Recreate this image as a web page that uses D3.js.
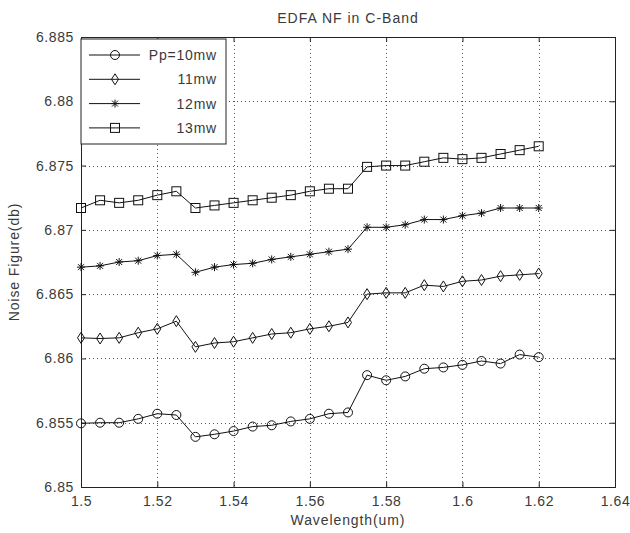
<!DOCTYPE html>
<html lang="en">
  <head>
    <meta charset="UTF-8" />
    <title>EDFA NF in C-Band</title>
    <script src="https://d3js.org/d3.v7.min.js"></script>
    <style>
      body { margin: 0; background: #fff; }
      svg text { font-family: "Liberation Sans", Arial, sans-serif; fill: #3a3a3a; }
    </style>
  </head>
  <body>
    <svg></svg>
    <script>
      // wavelengths (um), 1.5 .. 1.62 step 0.005
      const wavelength = [1.5, 1.505, 1.51, 1.515, 1.52, 1.525, 1.53, 1.535, 1.54, 1.545, 1.55, 1.555, 1.56,
        1.565, 1.57, 1.575, 1.58, 1.585, 1.59, 1.595, 1.6, 1.605, 1.61, 1.615, 1.62];

      const nf10 = [6.85495, 6.8550, 6.8550, 6.8553, 6.8557, 6.8556, 6.8539, 6.8541, 6.85435, 6.8547, 6.8548,
        6.8551, 6.8553, 6.8557, 6.8558, 6.8587, 6.8583, 6.8586, 6.8592, 6.8593, 6.8595, 6.8598, 6.8596, 6.8603, 6.8601];
      const nf11 = [6.8616, 6.86155, 6.8616, 6.8620, 6.8623, 6.8629, 6.8609, 6.8612, 6.8613, 6.8616, 6.8619,
        6.8620, 6.8623, 6.8625, 6.8628, 6.8650, 6.8651, 6.8651, 6.8657, 6.8656, 6.8660, 6.8661, 6.8664, 6.8665, 6.8666];
      const nf12 = [6.8671, 6.8672, 6.8675, 6.8676, 6.8680, 6.8681, 6.8667, 6.8671, 6.8673, 6.8674, 6.8677,
        6.8679, 6.8681, 6.8683, 6.8685, 6.8702, 6.8702, 6.8704, 6.8708, 6.8708, 6.8711, 6.8713, 6.8717, 6.8717, 6.8717];
      const nf13 = [6.8717, 6.8723, 6.8721, 6.8723, 6.8727, 6.8730, 6.8717, 6.8719, 6.8721, 6.8723, 6.8725,
        6.8727, 6.8730, 6.8732, 6.8732, 6.8749, 6.8750, 6.8750, 6.8753, 6.8756, 6.8755, 6.8756, 6.8759, 6.8762, 6.8765];

      const seriesNames = ["Pp=10mw", "11mw", "12mw", "13mw"];
      const seriesValues = [nf10, nf11, nf12, nf13];
      const markerTypes = ["circle", "diamond", "star", "square"];

      const xTicks = [1.5, 1.52, 1.54, 1.56, 1.58, 1.6, 1.62, 1.64];
      const yTicks = [6.85, 6.855, 6.86, 6.865, 6.87, 6.875, 6.88, 6.885];

      const width = 630, height = 533;
      const margin = { left: 81, right: 15, top: 37, bottom: 46 };

      const svg = d3.select("svg").attr("width", width).attr("height", height);

      const x = d3.scaleLinear().domain([1.5, 1.64]).range([margin.left, width - margin.right]);
      const y = d3.scaleLinear().domain([6.85, 6.885]).range([height - margin.bottom, margin.top]);

      // grid
      const grid = svg.append("g").attr("stroke", "#555").attr("stroke-width", 1)
        .attr("stroke-dasharray", "1,3");
      grid.selectAll(".gx").data(xTicks.slice(1, -1)).enter().append("line")
        .attr("x1", d => Math.round(x(d)) + 0.5).attr("x2", d => Math.round(x(d)) + 0.5)
        .attr("y1", y(6.885)).attr("y2", y(6.85));
      grid.selectAll(".gy").data(yTicks.slice(1, -1)).enter().append("line")
        .attr("y1", d => Math.round(y(d)) + 0.5).attr("y2", d => Math.round(y(d)) + 0.5)
        .attr("x1", x(1.5)).attr("x2", x(1.64));

      // axes
      const xAxis = d3.axisBottom(x).tickValues(xTicks).tickSize(-5).tickPadding(9)
        .tickFormat(d3.format("~g"));
      const yAxis = d3.axisLeft(y).tickValues(yTicks).tickSize(-5).tickPadding(7)
        .tickFormat(d3.format("~g"));
      const xTop = d3.axisTop(x).tickValues(xTicks).tickSize(-5).tickFormat("");
      const yRight = d3.axisRight(y).tickValues(yTicks).tickSize(-5).tickFormat("");

      function styleAxis(g) {
        g.select(".domain").attr("stroke", "#222");
        g.selectAll(".tick line").attr("stroke", "#222");
        g.selectAll("text").attr("font-size", 14).attr("letter-spacing", 0.6).attr("fill", "#3a3a3a");
      }
      svg.append("g").attr("transform", `translate(0,${y(6.85)})`).call(xAxis).call(styleAxis);
      svg.append("g").attr("transform", `translate(${x(1.5)},0)`).call(yAxis).call(styleAxis);
      svg.append("g").attr("transform", `translate(0,${y(6.885)})`).call(xTop).call(styleAxis);
      svg.append("g").attr("transform", `translate(${x(1.64)},0)`).call(yRight).call(styleAxis);

      // marker drawing
      function drawMarker(sel, type) {
        if (type === "circle") {
          sel.append("circle").attr("r", 4.5);
        } else if (type === "diamond") {
          sel.append("path").attr("d", "M0,-5.5L3.5,0L0,5.5L-3.5,0Z");
        } else if (type === "square") {
          sel.append("rect").attr("x", -4.5).attr("y", -4.5).attr("width", 9).attr("height", 9);
        } else {
          sel.append("path").attr("d", "M-4,0H4M0,-4V4M-3,-3L3,3M-3,3L3,-3");
        }
      }

      const line = d3.line().x(d => x(d[0])).y(d => y(d[1]));

      seriesValues.forEach((vals, i) => {
        const pts = wavelength.map((w, j) => [w, vals[j]]);
        svg.append("path").datum(pts).attr("d", line)
          .attr("fill", "none").attr("stroke", "#111").attr("stroke-width", 1);
        const m = svg.append("g").attr("fill", "none").attr("stroke", "#111").attr("stroke-width", 1);
        pts.forEach(p => {
          const g = m.append("g").attr("transform", `translate(${x(p[0])},${y(p[1])})`);
          drawMarker(g, markerTypes[i]);
        });
      });

      // legend
      const legend = svg.append("g").attr("transform", `translate(${x(1.5)},${y(6.885) + 2})`);
      legend.append("rect").attr("x", 0).attr("y", 0).attr("width", 145).attr("height", 105)
        .attr("fill", "#fff").attr("stroke", "#222");
      seriesNames.forEach((name, i) => {
        const ly = 16 + i * 24.3;
        const row = legend.append("g").attr("transform", `translate(0,${ly})`);
        row.append("line").attr("x1", 8).attr("x2", 59).attr("y1", 0).attr("y2", 0)
          .attr("stroke", "#111");
        const mg = row.append("g").attr("transform", "translate(34,0)")
          .attr("fill", "none").attr("stroke", "#111");
        drawMarker(mg, markerTypes[i]);
        row.append("text").attr("x", 136).attr("y", 5).attr("text-anchor", "end")
          .attr("font-size", 14).attr("letter-spacing", 0.8).text(name);
      });

      // titles
      svg.append("text").attr("x", (x(1.5) + x(1.64)) / 2).attr("y", 23)
        .attr("text-anchor", "middle").attr("font-size", 14).attr("letter-spacing", 1)
        .text("EDFA NF in C-Band");
      svg.append("text").attr("x", (x(1.5) + x(1.64)) / 2).attr("y", 525)
        .attr("text-anchor", "middle").attr("font-size", 14).attr("letter-spacing", 0.9)
        .text("Wavelength(um)");
      svg.append("text").attr("transform", `translate(19,${(y(6.85) + y(6.885)) / 2}) rotate(-90)`)
        .attr("text-anchor", "middle").attr("font-size", 14).attr("letter-spacing", 0.9)
        .text("Noise Figure(db)");
    </script>
  </body>
</html>
